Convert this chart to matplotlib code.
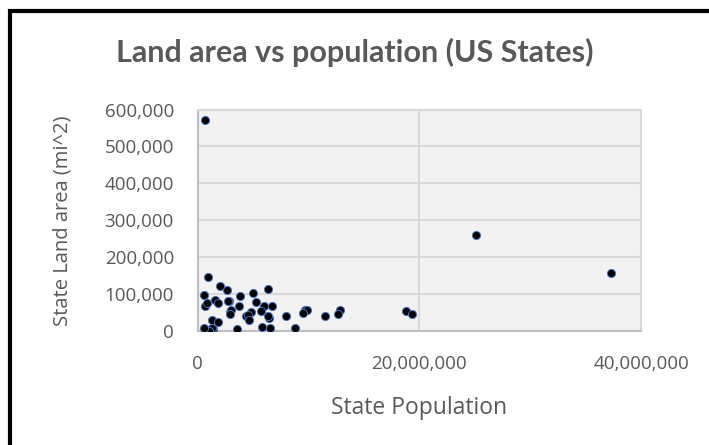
import matplotlib.pyplot as plt
from matplotlib.ticker import FuncFormatter, MultipleLocator
from matplotlib.patches import Rectangle

# 2010 census population and land area (sq mi) per state
states = ['AL', 'AK', 'AZ', 'AR', 'CA', 'CO', 'CT', 'DE', 'FL', 'GA',
          'HI', 'ID', 'IL', 'IN', 'IA', 'KS', 'KY', 'LA', 'ME', 'MD',
          'MA', 'MI', 'MN', 'MS', 'MO', 'MT', 'NE', 'NV', 'NH', 'NJ',
          'NM', 'NY', 'NC', 'ND', 'OH', 'OK', 'OR', 'PA', 'RI', 'SC',
          'SD', 'TN', 'TX', 'UT', 'VT', 'VA', 'WA', 'WV', 'WI', 'WY']
population = [4779736, 710231, 6392017, 2915918, 37253956, 5029196, 3574097, 897934, 18801310, 9687653,
              1360301, 1567582, 12830632, 6483802, 3046355, 2853118, 4339367, 4533372, 1328361, 5773552,
              6547629, 9883640, 5303925, 2967297, 5988927, 989415, 1826341, 2700551, 1316470, 8791894,
              2059179, 19378102, 9535483, 672591, 11536504, 3751351, 3831074, 12702379, 1052567, 4625364,
              814180, 6346105, 25145561, 2763885, 625741, 8001024, 6724540, 1852994, 5686986, 563626]
land_area = [50645, 570641, 113594, 52035, 155779, 103642, 4842, 1949, 53625, 57513,
             6423, 82643, 55519, 35826, 55857, 81759, 39486, 43204, 30843, 9707,
             7800, 56539, 79627, 46923, 68742, 145546, 76824, 109781, 8953, 7354,
             121298, 47126, 48618, 69001, 40861, 68595, 95988, 44743, 1034, 30061,
             75811, 41235, 261232, 82170, 9217, 39490, 66456, 24038, 54158, 97093]

txt = '#595959'
plt.rcParams['font.family'] = ['Open Sans', 'DejaVu Sans']

fig = plt.figure(figsize=(7.09, 4.45), dpi=100)
ax = fig.add_axes([0.2786, 0.2562, 0.6255, 0.4977])
ax.set_facecolor('#F2F2F2')

ax.scatter(population, land_area, s=34, c='black', edgecolors='#4472C4',
           linewidths=0.7, zorder=3)

ax.set_xlim(0, 40000000)
ax.set_ylim(0, 600000)
ax.xaxis.set_major_locator(MultipleLocator(20000000))
ax.yaxis.set_major_locator(MultipleLocator(100000))
comma = FuncFormatter(lambda v, p: f'{int(v):,}')
ax.xaxis.set_major_formatter(comma)
ax.yaxis.set_major_formatter(comma)
ax.tick_params(length=0, labelsize=13.5, colors=txt)
ax.tick_params(axis='x', pad=17)
ax.tick_params(axis='y', pad=17)
ax.grid(True, color='#D9D9D9', linewidth=1.5, zorder=0)
ax.set_axisbelow(True)
for side in ['left', 'bottom']:
    ax.spines[side].set_color('#BFBFBF')
    ax.spines[side].set_linewidth(1.5)
for side in ['top', 'right']:
    ax.spines[side].set_color('#D9D9D9')
    ax.spines[side].set_linewidth(1.5)

ax.set_xlabel('State Population', fontsize=16.5, color=txt, labelpad=17)
ax.set_ylabel('State Land area (mi^2)', fontsize=14.5, color=txt, labelpad=23)
fig.text(0.5, 0.883, 'Land area vs population (US States)', ha='center', va='center',
         fontsize=22, fontweight='bold', color=txt, family=['Lato', 'DejaVu Sans'])

# chart frame
fig.patches.append(Rectangle((10 / 709, -0.1), 1.2, 1 - 11 / 445 + 0.1, transform=fig.transFigure,
                             fill=False, edgecolor='black', linewidth=3))

fig.savefig('out.png', dpi=100)
